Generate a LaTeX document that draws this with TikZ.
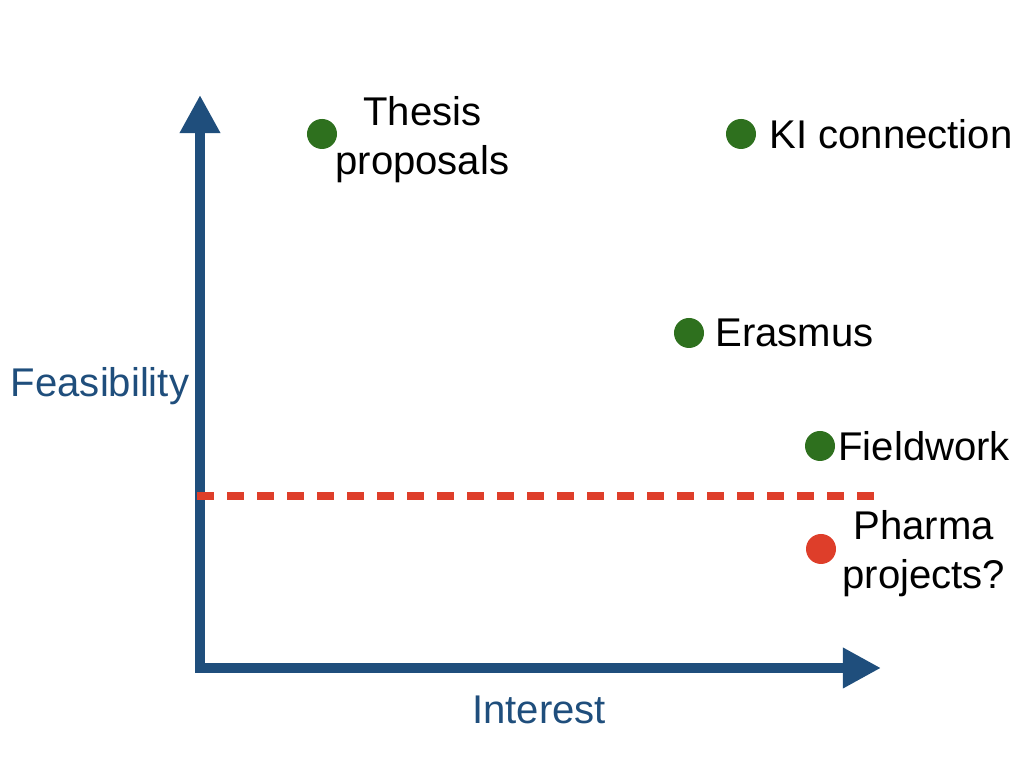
\documentclass[tikz,border=0pt]{standalone}
\usepackage{fontspec}
\setmainfont{Liberation Sans}
\usepackage{tikz}
\usetikzlibrary{positioning,arrows.meta}
\definecolor{axisblue}{RGB}{31, 78, 124}
\definecolor{goodgreen}{RGB}{46, 112, 30}
\definecolor{riskred}{RGB}{222, 62, 42}

\begin{document}
\begin{tikzpicture}[
    x=0.01cm, y=-0.01cm,
    dot/.style={circle, fill=#1, draw=none, minimum size=0.3cm, inner sep=0pt},
    label/.style={inner sep=0pt, align=center, font=\fontsize{11.4}{14}\selectfont},
    axislabel/.style={inner sep=0pt, text=axisblue, font=\fontsize{11.4}{14}\selectfont},
    axis/.style={{Triangle[length=0.38cm, width=0.38cm]}-{Triangle[length=0.38cm, width=0.38cm]},
                 line width=0.1cm, axisblue, line join=miter},
    threshold/.style={line width=0.075cm, riskred, dash pattern=on 0.17cm off 0.13cm}
]
\useasboundingbox (0,0) rectangle (1024,768);

\coordinate (ytip) at (200,95);
\coordinate (origin) at (200,668);
\coordinate (xtip) at (881,668);
\coordinate (thleft) at (197,496);
\coordinate (thright) at (884,496);

\draw[axis] (ytip) -- (origin) -- (xtip);
\draw[threshold] (thleft) -- (thright);

\node[axislabel] (feas) at (100,386) {Feasibility};
\node[axislabel] (interest) at (539,710) {Interest};

\node[dot=goodgreen] (thesisdot) at (322,134) {};
\node[dot=goodgreen] (kidot) at (741,134) {};
\node[dot=goodgreen] (erasmusdot) at (689,333) {};
\node[dot=goodgreen] (fielddot) at (820,446) {};
\node[dot=riskred] (pharmadot) at (821,549) {};

\node[label, right=-0.03cm of thesisdot, yshift=-0.06cm] (thesis) {Thesis\\proposals};
\node[label, right=0.12cm of kidot] (ki) {KI connection};
\node[label, right=0.1cm of erasmusdot] (erasmus) {Erasmus};
\node[label, right=0.02cm of fielddot] (field) {Fieldwork};
\node[label, right=0.05cm of pharmadot, yshift=-0.05cm] (pharma) {Pharma\\projects?};
\end{tikzpicture}
\end{document}
